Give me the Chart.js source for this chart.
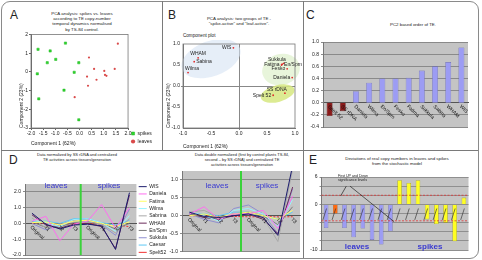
<!DOCTYPE html>
<html>
<head>
<meta charset="utf-8">
<title>TE copy-number dynamics</title>
<script src="https://cdn.jsdelivr.net/npm/chart.js@4.4.1/dist/chart.umd.min.js"></script>
<style>
  html, body { margin: 0; padding: 0; background: #fff; }
  body { position: relative; width: 482px; height: 260px; overflow: hidden;
         font-family: "Liberation Sans", Arial, sans-serif; color: #222; }
  .chart { position: absolute; }
  .letter { position: absolute; font-size: 12px; line-height: 12px; }
  .ttl { position: absolute; font-size: 4.4px; line-height: 5.2px; text-align: center;
         white-space: nowrap; transform: translateX(-50%); }
  .small { position: absolute; font-size: 4.6px; line-height: 5px; white-space: nowrap; }
  .tag { position: absolute; font-size: 8px; line-height: 8px; color: #3a3ad0;
         white-space: nowrap; transform: translateX(-50%); }
  .rule { position: absolute; background: #7a7a7a; }
</style>
</head>
<body>
<div style="position:absolute;left:1px;top:1px;width:476px;height:256px;border:1px solid #8a8a8a;border-radius:9px"></div>
<div class="rule" style="left:1px;top:150px;width:477px;height:1px"></div>
<div class="rule" style="left:162px;top:1px;width:1px;height:149px"></div>
<div class="rule" style="left:303px;top:1px;width:1px;height:257px"></div>

<div class="letter" style="left:10px;top:9px">A</div>
<div class="letter" style="left:168px;top:9px">B</div>
<div class="letter" style="left:306px;top:9px">C</div>
<div class="letter" style="left:9px;top:154px">D</div>
<div class="letter" style="left:309px;top:154px">E</div>

<div class="ttl" style="left:82px;top:11px">PCA analysis: spikes vs. leaves<br>according to TE copy-number<br>temporal dynamics normalised<br>by TS-84 control.</div>
<div class="ttl" style="left:239px;top:15.5px">PCA analysis: two groups of TE -<br>"spike-active" and "leaf-active".</div>
<div class="small" style="left:183px;top:32.5px">Component plot</div>
<div class="ttl" style="left:413px;top:22px">PC2 based order of TE.</div>
<div class="ttl" style="left:77px;top:151.5px;font-size:4px">Data normalized by SS rDNA and centralized<br>TE activities across tissues/generation</div>
<div class="ttl" style="left:242px;top:151.5px;font-size:4px">Data double normalized (first by control plants TS-84,<br>second – by SS rDNA) and centralized TE<br>activities across tissues/generation</div>
<div class="ttl" style="left:397px;top:155.5px">Deviations of real copy numbers in leaves and spikes<br>from the stochastic model</div>

<div class="chart" style="left:0;top:30px;width:162px;height:117px"><canvas id="chartA"></canvas></div>
<div class="chart" style="left:163px;top:40px;width:139px;height:110px"><canvas id="chartB"></canvas></div>
<div class="chart" style="left:303px;top:37px;width:172px;height:95px"><canvas id="chartC"></canvas></div>
<div class="chart" style="left:0;top:179px;width:177px;height:81px"><canvas id="chartD1"></canvas></div>
<div class="chart" style="left:165px;top:165.5px;width:140px;height:90.5px"><canvas id="chartD2"></canvas></div>
<div class="chart" style="left:302px;top:171.5px;width:172px;height:83px"><canvas id="chartE"></canvas></div>

<div class="tag" style="left:56px;top:182px">leaves</div>
<div class="tag" style="left:109px;top:182px">spikes</div>
<div class="tag" style="left:217px;top:182px">leaves</div>
<div class="tag" style="left:267px;top:182px">spikes</div>
<div class="tag" style="left:357px;top:243px;font-weight:bold">leaves</div>
<div class="tag" style="left:430px;top:243px;font-weight:bold">spikes</div>
<div class="small" style="left:338px;top:173.5px;font-size:3.6px;line-height:4px">First UP and Down<br>significance levels</div>

<script>
// A: PCA scores, spikes vs leaves
const aSpikeX = [-1.71, -1.21, -0.58, -1.33, -0.98, -0.03, -1.74, -0.22, -1.68, -0.64, -0.03];
const aSpikeY = [1.21, 1.12, 1.54, 0.49, 0.67, 0.49, -0.10, -0.02, -1.44, -0.98, -2.56];
const aLeafX = [1.58, 0.39, 0.60, 0.31, 0.70, 1.02, 1.05, 1.11, 1.45, 0.35, -0.20];
const aLeafY = [1.51, 0.77, 0.16, -0.25, -0.42, 0.05, -0.16, -0.21, 0.16, -0.74, -1.35];

// B: component plot (loadings)
const bNames = ['WIS', 'WHAM', 'Sabina', 'Wilma', 'Sukkula', 'Fatima', 'En/Spm', 'Fesko', 'Daniela', 'SS rDNA', 'Spelt 52'];
const bX = [-0.10, -0.73, -0.80, -0.91, 0.80, 0.76, 0.77, 0.86, 0.95, 0.82, 0.61];
const bY = [0.91, 0.67, 0.58, 0.32, 0.54, 0.50, 0.52, 0.41, 0.20, -0.17, -0.22];

// C: PC2 order
const cNames = ['Spelt 52', 'SS rDNA', 'Daniela', 'Wilma', 'En/Spm', 'Fesko', 'Fatima', 'Sukkula', 'Sabina', 'WHAM', 'WIS'];
const cValues = [-0.22, -0.14, 0.19, 0.33, 0.40, 0.40, 0.41, 0.53, 0.60, 0.67, 0.91];

// D: TE activity across tissues / generations
const dSteps = ['Original', 'T1', 'T2', 'T3', 'Original', 'T1', 'T2', 'T3'];
const dFamilies = ['WIS', 'Daniela', 'Fatima', 'Wilma', 'Sabrina', 'WHAM', 'En/Spm', 'Sukkula', 'Caesar', 'Spelt52'];
const dNorm = [
  [0.65, -0.05, -0.35, -0.10, -0.05, -0.15, -1.65, 1.95],
  [0.15, 0.45, -1.10, -0.05, 0.15, 1.20, -0.30, 1.00],
  [0.05, 0.10, -0.10, 0.15, 0.20, 0.00, -0.20, 0.10],
  [0.20, 0.05, -0.20, 0.25, 0.30, 0.05, -0.50, 0.50],
  [0.35, -0.30, -0.05, 0.10, 0.10, -0.05, -0.60, 0.30],
  [0.55, -0.10, -0.30, -0.05, 0.00, -0.20, -1.60, 1.80],
  [0.10, -0.25, -0.20, 0.05, 0.10, 0.00, -0.35, 0.00],
  [0.00, -0.40, -0.10, 0.20, 0.30, -0.10, -0.75, 0.90],
  [0.10, 0.15, 0.00, 0.30, 0.30, 0.05, -0.10, 0.20],
  [0.00, 0.00, -0.05, 0.00, 0.00, -0.05, -0.10, -0.20]
];
const dDouble = [
  [0.10, -0.02, -0.05, 0.00, 0.05, -0.05, -0.55, 1.40],
  [0.05, 0.25, -0.10, 0.05, 0.05, 0.15, -0.35, 0.55],
  [0.00, 0.05, -0.05, 0.05, 0.10, 0.00, -0.10, 0.15],
  [0.10, 0.00, -0.15, 0.15, 0.20, 0.05, -0.30, 0.45],
  [0.10, 0.15, -0.05, 0.05, 0.05, -0.05, -0.72, 1.30],
  [0.08, -0.05, -0.10, 0.00, 0.05, -0.10, -0.50, 0.80],
  [0.05, -0.05, -0.05, 0.05, 0.10, 0.00, -0.25, 0.25],
  [0.05, -0.10, -0.20, 0.20, 0.30, 0.05, -0.50, 0.75],
  [0.05, 0.05, 0.00, 0.10, 0.10, 0.00, -0.10, 0.10],
  [0.00, 0.00, -0.02, -0.02, -0.03, -0.03, -0.03, -0.03]
];

// E: deviations from the stochastic model
const eBars = ['1', '2', '3', '4', '5', '6', '7', '8', '9', '10', '11', '12', '13', '14', '15', '16'];
const eTissue = ['leaves', 'other', 'leaves', 'leaves', 'leaves', 'leaves', 'leaves', 'leaves',
                 'spikes', 'spikes', 'spikes', 'spikes', 'spikes', 'spikes', 'spikes', 'spikes'];
const eValues = [-5.2, -2.0, -5.2, -7.2, -5.3, -7.8, -8.8, -5.9, 5.3, 4.7, 5.3, -3.3, -4.3, -4.0, -8.1, 1.5];
const eLevels = [2.0, -3.6];

const FONT = '"Liberation Sans", Arial, sans-serif';
Chart.defaults.font.family = FONT;
Chart.defaults.font.size = 5;
Chart.defaults.color = '#222';
Chart.defaults.animation = false;
Chart.defaults.maintainAspectRatio = false;
Chart.defaults.plugins.legend.display = false;
Chart.defaults.plugins.tooltip.enabled = false;
Chart.defaults.events = [];

const fmt1 = v => Math.abs(v) < 1e-9 ? '0.0' : v.toFixed(1);

const plotBg = color => ({
  id: 'plotBg',
  beforeDraw(c) {
    const a = c.chartArea;
    c.ctx.save();
    c.ctx.fillStyle = color;
    c.ctx.fillRect(a.left, a.top, a.width, a.height);
    c.ctx.restore();
  }
});

const frame = color => ({
  id: 'frame',
  afterDatasetsDraw(c) {
    const a = c.chartArea;
    c.ctx.save();
    c.ctx.strokeStyle = color;
    c.ctx.lineWidth = 0.8;
    c.ctx.strokeRect(a.left, a.top, a.width, a.height);
    c.ctx.restore();
  }
});

// category names drawn slanted, hanging below the zero line
const slant = names => ({
  id: 'slant',
  afterDatasetsDraw(c) {
    const xs = c.scales.x, ys = c.scales.y, ctx = c.ctx;
    const y0 = ys.getPixelForValue(0);
    ctx.save();
    ctx.font = '5px ' + FONT;
    ctx.fillStyle = '#111';
    ctx.textAlign = 'left';
    ctx.textBaseline = 'middle';
    names.forEach((n, i) => {
      ctx.save();
      ctx.translate(xs.getPixelForTick(i) - 1, y0 + 3);
      ctx.rotate(Math.PI / 4);
      ctx.fillText(n, 0, 0);
      ctx.restore();
    });
    ctx.restore();
  }
});

// green line between leaves and spikes
const tissueSplit = {
  id: 'tissueSplit',
  afterDatasetsDraw(c) {
    const xs = c.scales.x, a = c.chartArea, ctx = c.ctx;
    const x = (xs.getPixelForTick(3) + xs.getPixelForTick(4)) / 2;
    ctx.save();
    ctx.strokeStyle = '#3ad23a';
    ctx.lineWidth = 2;
    ctx.beginPath();
    ctx.moveTo(x, a.top);
    ctx.lineTo(x, a.bottom);
    ctx.stroke();
    ctx.restore();
  }
};

// A
new Chart(document.getElementById('chartA'), {
  type: 'scatter',
  data: {
    datasets: [
      { label: 'spikes', data: aSpikeX.map((x, i) => ({ x, y: aSpikeY[i] })), pointStyle: 'rect',
        pointRadius: 1.6, backgroundColor: '#2ed82e', borderColor: '#22b522', borderWidth: 0.5 },
      { label: 'leaves', data: aLeafX.map((x, i) => ({ x, y: aLeafY[i] })), pointStyle: 'circle',
        pointRadius: 1.1, backgroundColor: '#d94a4a', borderColor: '#d94a4a', borderWidth: 0 }
    ]
  },
  options: {
    layout: { padding: { left: 16 } },
    plugins: {
      legend: { display: true, position: 'right', align: 'end',
        labels: { usePointStyle: true, boxWidth: 4, boxHeight: 3, padding: 3, font: { size: 5 } } }
    },
    scales: {
      x: { min: -2, max: 2,
        ticks: { stepSize: 0.5, autoSkip: false, maxRotation: 0, padding: 1, callback: fmt1 },
        grid: { drawOnChartArea: false, tickLength: 2, color: '#666' }, border: { color: '#666' },
        title: { display: true, text: 'Component 1 (62%)', align: 'start', padding: 0 },
        afterFit: s => { s.height = 19; } },
      y: { min: -3, max: 2,
        ticks: { stepSize: 1, padding: 1 },
        grid: { drawOnChartArea: false, tickLength: 2, color: '#666' }, border: { color: '#666' },
        title: { display: true, text: 'Component 2 (23%)', align: 'start', padding: { top: 3, bottom: 0 } },
        afterFit: s => { s.width = 15; } }
    }
  },
  plugins: [frame('#777')]
});

// B
const bGroupShapes = [
  { cx: -0.50, cy: 0.65, rx: 0.55, ry: 0.42, rot: -20, color: 'rgba(214,227,244,0.6)' },
  { cx: 0.75, cy: 0.39, rx: 0.34, ry: 0.37, rot: -15, color: 'rgba(226,242,210,0.8)' },
  { cx: 0.69, cy: -0.18, rx: 0.31, ry: 0.20, rot: -15, color: 'rgba(214,232,128,0.85)' }
];
const bLabelSide = ['l', 'u', 'r', 'ur', 'ul', 'l', 'r', 'l', 'l', 'ul', 'l'];

new Chart(document.getElementById('chartB'), {
  type: 'scatter',
  data: {
    datasets: [{ label: 'loadings', data: bX.map((x, i) => ({ x, y: bY[i] })),
      pointRadius: 0.9, backgroundColor: '#e02a2a', borderWidth: 0 }]
  },
  options: {
    layout: { padding: { left: 3, right: 7 } },
    scales: {
      x: { min: -1, max: 1,
        ticks: { stepSize: 0.5, autoSkip: false, maxRotation: 0, padding: 1, callback: fmt1 },
        grid: { color: c => c.tick && c.tick.value === 0 ? '#888' : 'rgba(0,0,0,0)', tickLength: 2 },
        border: { color: '#777' },
        title: { display: true, text: 'Component 1 (62%)', align: 'start', padding: 0 },
        afterFit: s => { s.height = 22; } },
      y: { min: -1, max: 1,
        ticks: { stepSize: 0.5, padding: 1, callback: fmt1 },
        grid: { color: c => c.tick && c.tick.value === 0 ? '#888' : 'rgba(0,0,0,0)', tickLength: 2 },
        border: { color: '#777' },
        title: { display: true, text: 'Component 2 (23%)', align: 'start', padding: 0 },
        afterFit: s => { s.width = 17; } }
    }
  },
  plugins: [
    {
      id: 'groups',
      beforeDatasetsDraw(c) {
        const xs = c.scales.x, ys = c.scales.y, ctx = c.ctx;
        ctx.save();
        bGroupShapes.forEach(g => {
          const px = xs.getPixelForValue(g.cx), py = ys.getPixelForValue(g.cy);
          const rx = xs.getPixelForValue(g.cx + g.rx) - px;
          const ry = py - ys.getPixelForValue(g.cy + g.ry);
          ctx.fillStyle = g.color;
          ctx.beginPath();
          ctx.ellipse(px, py, rx, ry, g.rot * Math.PI / 180, 0, Math.PI * 2);
          ctx.fill();
        });
        ctx.restore();
      }
    },
    {
      id: 'names',
      afterDatasetsDraw(c) {
        const ctx = c.ctx;
        ctx.save();
        ctx.font = '5px ' + FONT;
        ctx.fillStyle = '#222';
        ctx.textBaseline = 'middle';
        c.getDatasetMeta(0).data.forEach((p, i) => {
          const s = bLabelSide[i];
          let x = p.x, y = p.y;
          if (s === 'l') { ctx.textAlign = 'right'; x -= 2; }
          else if (s === 'r') { ctx.textAlign = 'left'; x += 2; }
          else if (s === 'u') { ctx.textAlign = 'center'; y -= 4; }
          else if (s === 'ul') { ctx.textAlign = 'right'; x += 2; y -= 4; }
          else { ctx.textAlign = 'left'; x -= 3; y -= 4; }
          ctx.fillText(bNames[i], x, y);
        });
        ctx.restore();
      }
    },
    frame('#777')
  ]
});

// C
new Chart(document.getElementById('chartC'), {
  type: 'bar',
  data: {
    labels: cNames,
    datasets: [{ label: 'PC2', data: cValues,
      backgroundColor: cValues.map(v => v < 0 ? '#8a1a1a' : '#9c9cf4'),
      borderColor: cValues.map(v => v < 0 ? '#5a0d0d' : '#6a6ab8'),
      borderWidth: 0.6, barPercentage: 0.45, categoryPercentage: 1 }]
  },
  options: {
    layout: { padding: { right: 7 } },
    scales: {
      x: { position: { y: 0 }, ticks: { display: false }, grid: { display: false }, border: { color: '#555' } },
      y: { min: -0.4, max: 1.0,
        ticks: { stepSize: 0.2, padding: 2, callback: fmt1 },
        grid: { color: '#8a8a8a', tickLength: 2 }, border: { color: '#777' },
        afterFit: s => { s.width = 20; } }
    }
  },
  plugins: [plotBg('#c4c4c4'), slant(cNames)]
});

// D
const dColors = ['#1c1c6e', '#ff6ef0', '#ffff66', '#99f4ff', '#a8a8a8', '#6a2a5a', '#7c7c7c', '#8f8fd0', '#5ec8f5', '#f03030'];

function lineSets(rows) {
  return rows.map((row, k) => ({
    label: dFamilies[k], data: row, borderColor: dColors[k], backgroundColor: dColors[k],
    borderWidth: 1, pointRadius: 0, pointStyle: 'line', tension: 0,
    borderDash: dFamilies[k] === 'Spelt52' ? [2, 1.5] : []
  }));
}

new Chart(document.getElementById('chartD1'), {
  type: 'line',
  data: { labels: dSteps, datasets: lineSets(dNorm) },
  options: {
    plugins: {
      legend: { display: true, position: 'right', align: 'center',
        labels: { usePointStyle: true, pointStyleWidth: 8, boxHeight: 4, padding: 2.3, font: { size: 5 } } }
    },
    scales: {
      x: { position: { y: 0 }, offset: true, ticks: { display: false }, grid: { display: false }, border: { color: '#555' } },
      y: { min: -2, max: 2.5,
        ticks: { stepSize: 0.5, padding: 2, callback: fmt1 },
        grid: { color: '#8a8a8a', tickLength: 2 }, border: { color: '#777' },
        afterFit: s => { s.width = 25; } }
    }
  },
  plugins: [plotBg('#c4c4c4'), tissueSplit, slant(dSteps)]
});

new Chart(document.getElementById('chartD2'), {
  type: 'line',
  data: { labels: dSteps, datasets: lineSets(dDouble) },
  options: {
    layout: { padding: { right: 5 } },
    scales: {
      x: { position: { y: 0 }, offset: true, ticks: { display: false }, grid: { display: false }, border: { color: '#555' } },
      y: { min: -1, max: 1.25,
        ticks: { stepSize: 0.5, padding: 2, includeBounds: false, callback: fmt1 },
        grid: { color: '#8a8a8a', tickLength: 2 }, border: { color: '#777' },
        afterFit: s => { s.width = 17; } }
    }
  },
  plugins: [plotBg('#c4c4c4'), tissueSplit, slant(dSteps)]
});

// E
const eFill = { leaves: '#9c9cf4', other: '#ff6a10', spikes: '#ffff22' };
const eEdge = { leaves: '#6a6ab8', other: '#c04a00', spikes: '#a8a800' };

new Chart(document.getElementById('chartE'), {
  type: 'bar',
  data: {
    labels: eBars,
    datasets: [{ label: 'deviation', data: eValues,
      backgroundColor: eTissue.map(t => eFill[t]), borderColor: eTissue.map(t => eEdge[t]),
      borderWidth: 0.6, barPercentage: 0.5, categoryPercentage: 1 }]
  },
  options: {
    layout: { padding: { right: 5.5 } },
    scales: {
      x: { display: false },
      y: { min: -10, max: 6,
        ticks: { stepSize: 2, padding: 2, autoSkip: false,
          callback: v => (v === 6 || v === 0 || v === -10) ? String(v) : '' },
        grid: { color: '#8f8f8f', tickLength: 2 }, border: { color: '#777' },
        afterFit: s => { s.width = 19.5; } }
    }
  },
  plugins: [
    plotBg('#c4c4c4'),
    {
      id: 'levels',
      afterDatasetsDraw(c) {
        const xs = c.scales.x, ys = c.scales.y, a = c.chartArea, ctx = c.ctx;
        ctx.save();
        ctx.strokeStyle = '#e03434';
        ctx.lineWidth = 0.8;
        ctx.setLineDash([2, 1.5]);
        eLevels.forEach(v => {
          const y = ys.getPixelForValue(v);
          ctx.beginPath(); ctx.moveTo(a.left, y); ctx.lineTo(a.right, y); ctx.stroke();
        });
        ctx.setLineDash([]);
        ctx.strokeStyle = '#3a3a3a';
        ctx.lineWidth = 0.7;
        eValues.forEach((v, i) => {
          ctx.beginPath();
          ctx.moveTo(xs.getPixelForValue(i - 0.35), ys.getPixelForValue(-3.4));
          ctx.lineTo(xs.getPixelForValue(i + 0.05), ys.getPixelForValue(-0.9));
          ctx.stroke();
        });
        ctx.strokeStyle = '#222';
        ctx.beginPath();
        ctx.moveTo(xs.getPixelForValue(2.2), ys.getPixelForValue(4.0));
        ctx.lineTo(xs.getPixelForValue(1.6), ys.getPixelForValue(1.9));
        ctx.moveTo(xs.getPixelForValue(2.6), ys.getPixelForValue(4.0));
        ctx.lineTo(xs.getPixelForValue(7.4), ys.getPixelForValue(-3.8));
        ctx.stroke();
        ctx.restore();
      }
    }
  ]
});
</script>
</body>
</html>
